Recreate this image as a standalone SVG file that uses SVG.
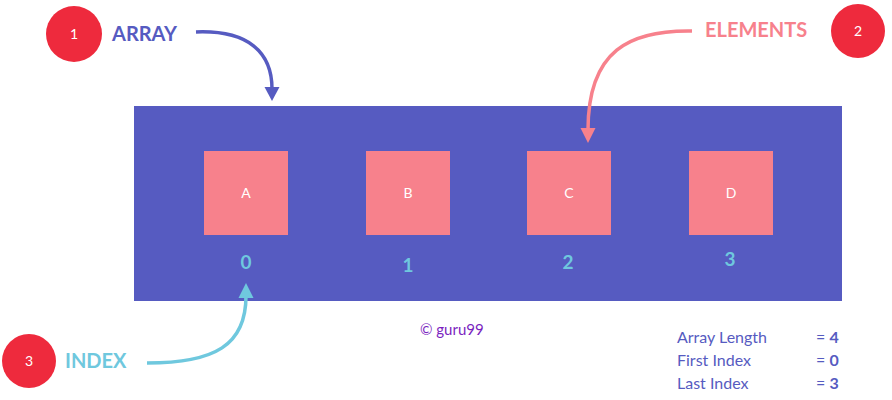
<svg xmlns="http://www.w3.org/2000/svg" width="892" height="400" viewBox="0 0 892 400">
<style>
.badge{fill:#EE2A3D}
.bnum{fill:#fff;font-family:Lato,"Open Sans",sans-serif;font-size:14px;text-anchor:middle}
.lbl{font-family:Lato,"Open Sans",sans-serif;font-size:20px;font-weight:bold}
.el{fill:#F7818C}
.elt{fill:#fff;font-family:Lato,"Open Sans",sans-serif;font-size:14px;text-anchor:middle}
.idx{fill:#6FC8DE;font-family:Lato,"Open Sans",sans-serif;font-size:19px;font-weight:bold;text-anchor:middle}
.leg{fill:#565BC1;font-family:Lato,"Open Sans",sans-serif;font-size:16px}
.conn{fill:none;stroke-width:3.5}
</style>
<rect width="892" height="400" fill="#fff"/>
<g id="array">
<rect x="134" y="106" width="708" height="195" fill="#565BC1"/>
</g>
<g id="elemA"><rect class="el" x="204" y="151" width="84" height="84"/><text class="elt" x="246" y="198">A</text><text class="idx" x="246" y="269">0</text></g>
<g id="elemB"><rect class="el" x="366" y="151" width="84" height="84"/><text class="elt" x="408" y="198">B</text><text class="idx" x="408" y="272">1</text></g>
<g id="elemC"><rect class="el" x="527" y="151" width="84" height="84"/><text class="elt" x="569" y="198">C</text><text class="idx" x="568" y="269">2</text></g>
<g id="elemD"><rect class="el" x="689" y="151" width="84" height="84"/><text class="elt" x="731" y="198">D</text><text class="idx" x="730" y="266">3</text></g>
<g id="label1"><circle class="badge" cx="74" cy="34" r="28"/><text class="bnum" x="74" y="39">1</text><text class="lbl" x="112" y="41" fill="#565BC1">ARRAY</text></g>
<g id="label2"><circle class="badge" cx="858" cy="31" r="27"/><text class="bnum" x="858" y="36">2</text><text class="lbl" x="705" y="37" fill="#F7818C">ELEMENTS</text></g>
<g id="label3"><circle class="badge" cx="29" cy="361" r="27"/><text class="bnum" x="29" y="366">3</text><text class="lbl" x="65" y="368" fill="#6FC8DE">INDEX</text></g>
<g id="connectors">
<path class="conn" stroke="#565BC1" d="M196,32 C248,30 272,52 272,89"/>
<polygon fill="#565BC1" points="264.5,87 279.5,87 272,101"/>
<path class="conn" stroke="#F7818C" d="M692,31 C630,30 588,50 588,130"/>
<polygon fill="#F7818C" points="580.5,128 595.5,128 588,143"/>
<path class="conn" stroke="#6FC8DE" d="M147,363 C215,363 246,345 246,296"/>
<polygon fill="#6FC8DE" points="238.5,298 253.5,298 246,283"/>
</g>
<g id="copyright"><text x="420" y="335" font-family="Lato,'Open Sans',sans-serif" font-size="15" fill="#7B1FC0">© guru99</text></g>
<g id="legend">
<text class="leg" x="677" y="343">Array Length</text><text class="leg" x="816" y="343">= <tspan font-weight="bold">4</tspan></text>
<text class="leg" x="677" y="366">First Index</text><text class="leg" x="816" y="366">= <tspan font-weight="bold">0</tspan></text>
<text class="leg" x="677" y="389">Last Index</text><text class="leg" x="816" y="389">= <tspan font-weight="bold">3</tspan></text>
</g>
</svg>
